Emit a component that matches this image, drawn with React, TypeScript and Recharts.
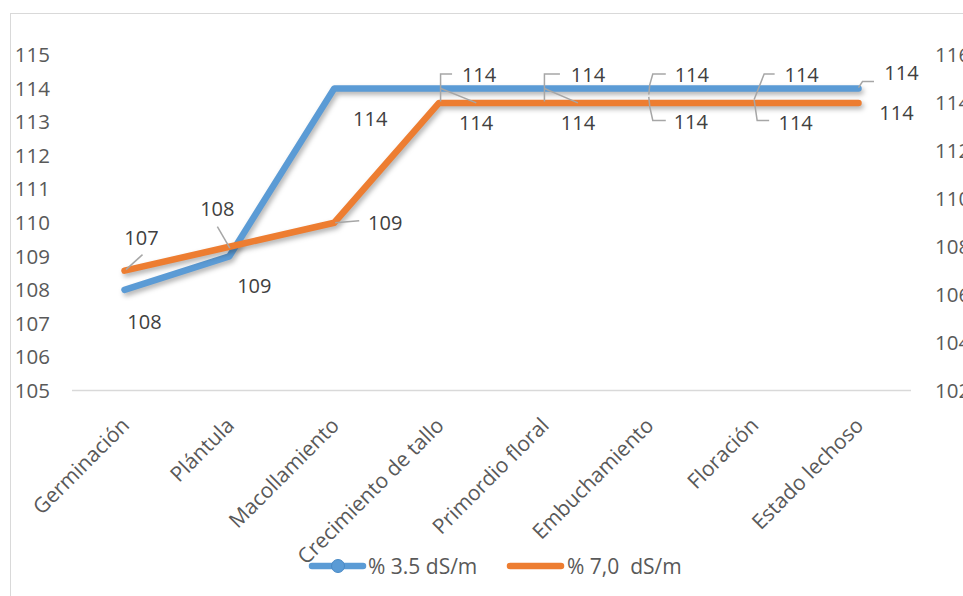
import { LineChart, Line, XAxis, YAxis, LabelList } from 'recharts'

const etapas = [
  'Germinación',
  'Plántula',
  'Macollamiento',
  'Crecimiento de tallo',
  'Primordio floral',
  'Embuchamiento',
  'Floración',
  'Estado lechoso',
]
const serie35 = [108, 109, 114, 114, 114, 114, 114, 114]
const serie70 = [107, 108, 109, 114, 114, 114, 114, 114]
const ticksIzq = [105, 106, 107, 108, 109, 110, 111, 112, 113, 114, 115]
const ticksDer = [102, 104, 106, 108, 110, 112, 114, 116]

const data = etapas.map((e, i) => ({ etapa: e, s35: serie35[i], s70: serie70[i] }))

// label placement (text centre relative to the point) and leader lines, like the Excel chart
const offs35 = [[20, 32], [25, 29], [36, 30], [40, -14], [44, -14], [43, -14], [48, -14], [43, -16]]
const offs70 = [[17, -33], [-12, -38], [51, 0], [37, 20], [34, 20], [42, 19], [42, 20], [38, 10]]
const lead35: (number[][] | null)[] = [
  null,
  null,
  null,
  [[13, -14.5], [1.5, -14.5], [1.5, 13]],
  [[16, -14.5], [0.5, -14.5], [0.5, 13]],
  [[17, -14.5], [4, -14.5], [1, -4], [0, 6]],
  [[21, -14.5], [10.5, -14.5], [0.5, 11]],
  [[15.5, -7], [4, -7], [0, -1]],
]
const lead70: (number[][] | null)[] = [
  [[18, -16], [1.5, -1]],
  [[-12, -20], [0.5, 1.5]],
  [[1, 0], [25, -2]],
  [[1.2, -14.7], [37.2, 0]],
  [[0.5, -14.4], [34, 0]],
  [[0, -6], [1, 4], [4, 17.5], [17, 17.5]],
  [[0.5, -3], [3.5, 17.5], [15.5, 17.5]],
  null,
]

const AZUL = '#5b9bd5'
const NARANJA = '#ed7d31'
const FONT = '"Open Sans", sans-serif'

function etiqueta(props: any, offs: number[][], leads: (number[][] | null)[]) {
  const { x, y, value, index } = props
  const o = offs[index] || [0, -15]
  const l = leads[index]
  return (
    <g key={`lbl-${index}`}>
      {l && (
        <polyline
          points={l.map((p) => `${x + p[0]},${y + p[1]}`).join(' ')}
          fill="none"
          stroke="#a6a6a6"
          strokeWidth={1.5}
        />
      )}
      <text
        x={x + o[0]}
        y={y + o[1]}
        textAnchor="middle"
        dominantBaseline="central"
        fill="#404040"
        fontSize={20}
        fontFamily={FONT}
      >
        {Math.round(value)}
      </text>
    </g>
  )
}

function TickX(props: any) {
  const { x, y, payload } = props
  return (
    <g transform={`translate(${x + 1},${y})`}>
      <text
        textAnchor="end"
        transform="rotate(-45)"
        dy="0.35em"
        fill="#595959"
        fontSize={21}
        fontFamily={FONT}
      >
        {payload.value}
      </text>
    </g>
  )
}

export default function App() {
  return (
    <div style={{ position: 'absolute', left: 0, top: 0, width: 963, height: 596, overflow: 'hidden', background: '#fff', fontFamily: FONT }}>
      <style>{`.recharts-line-curve { filter: drop-shadow(2px 3px 2.5px rgba(0,0,0,0.3)); }`}</style>
      <div style={{ position: 'absolute', left: 10, top: 13, width: 1000, height: 700, border: '1.5px solid #d9d9d9' }} />
      <div style={{ position: 'absolute', left: 0, top: 0 }}>
        <LineChart width={963} height={596} data={data} margin={{ top: 55, right: 0, bottom: 0, left: 0 }}>
          <XAxis
            dataKey="etapa"
            height={205.5}
            padding={{ left: 52.5, right: 52.5 }}
            axisLine={{ stroke: '#d9d9d9', strokeWidth: 1.5 }}
            tickLine={false}
            tickSize={0}
            tickMargin={31}
            interval={0}
            tick={<TickX />}
          />
          <YAxis
            yAxisId="izq"
            width={72}
            domain={[105, 115]}
            ticks={ticksIzq}
            axisLine={false}
            tickLine={false}
            tickSize={0}
            tickMargin={22}
            interval={0}
            tick={{ fill: '#595959', fontSize: 20.5, fontFamily: FONT }}
          />
          <YAxis
            yAxisId="der"
            orientation="right"
            width={52}
            domain={[102, 116]}
            ticks={ticksDer}
            axisLine={false}
            tickLine={false}
            tickSize={0}
            tickMargin={24}
            interval={0}
            tick={{ fill: '#595959', fontSize: 20.5, fontFamily: FONT, textAnchor: 'start' }}
          />
          <Line
            yAxisId="izq"
            dataKey="s35"
            stroke={AZUL}
            strokeWidth={6.5}
            strokeLinecap="round"
            strokeLinejoin="round"
            dot={false}
            isAnimationActive={false}
          >
            <LabelList dataKey="s35" content={(p: any) => etiqueta(p, offs35, lead35)} />
          </Line>
          <Line
            yAxisId="der"
            dataKey="s70"
            stroke={NARANJA}
            strokeWidth={6.5}
            strokeLinecap="round"
            strokeLinejoin="round"
            dot={false}
            isAnimationActive={false}
          >
            <LabelList dataKey="s70" content={(p: any) => etiqueta(p, offs70, lead70)} />
          </Line>
        </LineChart>
      </div>
      <div style={{ position: 'absolute', left: 0, top: 552, width: 963, height: 28 }}>
        <svg width={963} height={28} style={{ position: 'absolute', left: 0, top: 0 }}>
          <line x1={312} y1={14} x2={363} y2={14} stroke={AZUL} strokeWidth={6.5} strokeLinecap="round" />
          <circle cx={338} cy={14} r={6.5} fill={AZUL} stroke="#4a8ac6" strokeWidth={1} />
          <text x={368} y={14} dominantBaseline="central" fill="#595959" fontSize={21} fontFamily={FONT}>
            % 3.5 dS/m
          </text>
          <line x1={510} y1={14} x2={561} y2={14} stroke={NARANJA} strokeWidth={6.5} strokeLinecap="round" />
          <text x={567} y={14} dominantBaseline="central" fill="#595959" fontSize={21} fontFamily={FONT} style={{ whiteSpace: 'pre' }}>
            {'% 7,0  dS/m'}
          </text>
        </svg>
      </div>
    </div>
  )
}
